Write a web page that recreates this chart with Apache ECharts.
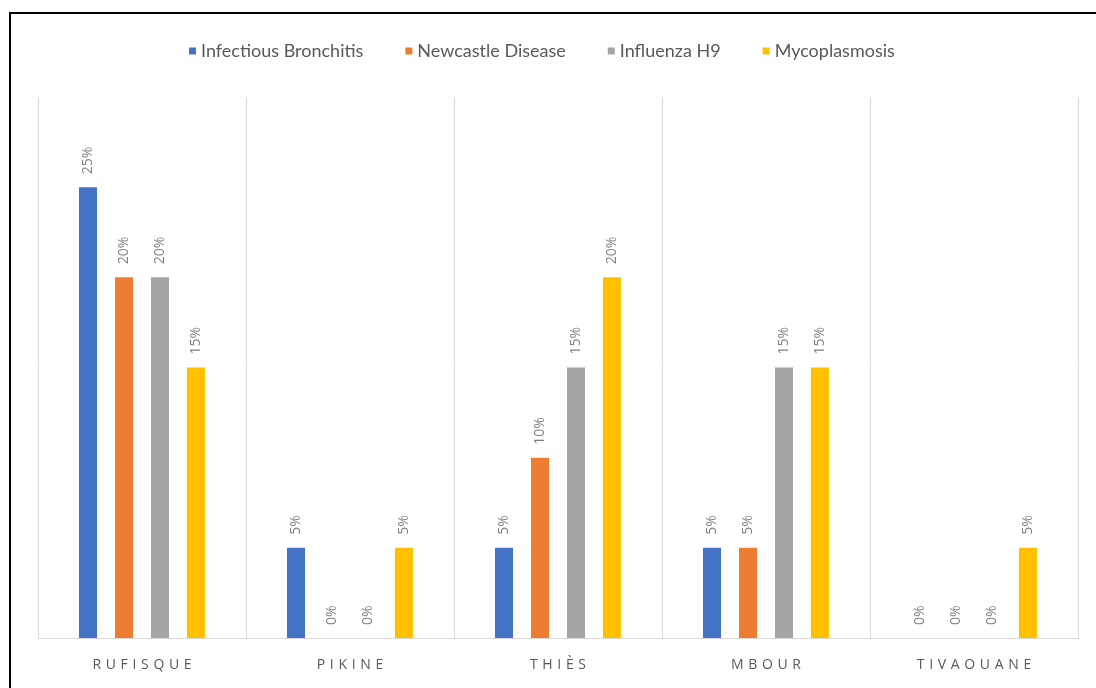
<!DOCTYPE html>
<html>
<head>
<meta charset="utf-8">
<script src="https://cdn.jsdelivr.net/npm/echarts@6/dist/echarts.min.js"></script>
<style>
  html, body { margin: 0; padding: 0; background: #fff; overflow: hidden; }
  #frame { position: absolute; left: 9px; top: 12px; width: 1200px; height: 800px;
           border: 2px solid #000; box-sizing: border-box; }
  #chart { position: absolute; left: 0; top: 0; width: 1096px; height: 688px; }
</style>
</head>
<body>
<div id="frame"></div>
<div id="chart"></div>
<script>
// Sites surveyed
const categories = ['RUFISQUE', 'PIKINE', 'THIÈS', 'MBOUR', 'TIVAOUANE'];

// Prevalence (%) per disease and site
const infectiousBronchitis = [25, 5, 5, 5, 0];
const newcastleDisease     = [20, 0, 10, 5, 0];
const influenzaH9          = [20, 0, 15, 15, 0];
const mycoplasmosis        = [15, 5, 20, 15, 5];

const seriesNames  = ['Infectious Bronchitis', 'Newcastle Disease', 'Influenza H9', 'Mycoplasmosis'];
const seriesValues = [infectiousBronchitis, newcastleDisease, influenzaH9, mycoplasmosis];
const seriesColors = ['#4472C4', '#ED7D31', '#A5A5A5', '#FFC000'];

const FONT = '"Open Sans", "Liberation Sans", sans-serif';
const LEGEND_FONT = 'Lato, "Open Sans", sans-serif';

const chart = echarts.init(document.getElementById('chart'), null, { renderer: 'canvas' });

const series = seriesNames.map((name, i) => ({
  name,
  type: 'bar',
  data: seriesValues[i],
  barWidth: 18,
  barGap: '100%',
  itemStyle: { color: seriesColors[i] },
  label: {
    show: true,
    position: 'top',
    rotate: 90,
    align: 'left',
    verticalAlign: 'middle',
    distance: 13,
    color: '#7f7f7f',
    fontFamily: FONT,
    fontSize: 14,
    formatter: p => p.value + '%'
  }
}));

chart.setOption({
  animation: false,
  backgroundColor: 'transparent',
  legend: {
    top: 37,
    left: 184,
    itemWidth: 7,
    itemHeight: 7,
    itemGap: 42,
    icon: 'rect',
    textStyle: { color: '#595959', fontFamily: LEGEND_FONT, fontSize: 18 },
    data: seriesNames
  },
  grid: { left: 38, right: 18, top: 97, bottom: 50 },
  xAxis: {
    type: 'category',
    data: categories,
    axisLine: { lineStyle: { color: '#d9d9d9', width: 1 } },
    axisTick: { show: false },
    splitLine: { show: true, interval: 0, lineStyle: { color: '#d9d9d9', width: 1 } },
    axisLabel: {
      color: '#595959',
      fontFamily: FONT,
      fontSize: 14,
      margin: 20,
      // letter-spaced category names
      formatter: v => v.split('').join('\u2004')
    }
  },
  yAxis: {
    type: 'value',
    min: 0,
    max: 30,
    interval: 5,
    show: false,
    splitLine: { show: false }
  },
  series
});
</script>
</body>
</html>
